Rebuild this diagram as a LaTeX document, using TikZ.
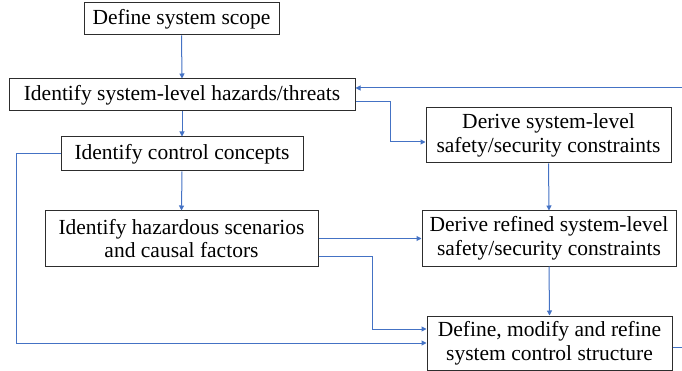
\documentclass[tikz,border=0pt]{standalone}
\usepackage{fontspec}
\setmainfont{Liberation Serif}
\usetikzlibrary{arrows.meta}
\definecolor{lineblue}{RGB}{68,114,196}
\definecolor{boxgray}{RGB}{45,45,45}
\begin{document}
\begin{tikzpicture}[x=1pt,y=-1pt,
  box/.style={draw=boxgray,line width=1pt,inner sep=0pt,align=center,
    font=\fontsize{21.5}{23.5}\selectfont},
  arr/.style={draw=lineblue,line width=1pt,-{Triangle[length=5pt,width=5pt]}},
  ln/.style={draw=lineblue,line width=1pt}]
\useasboundingbox (0,0) rectangle (682,371);
\node[box,minimum width=195pt,minimum height=32pt] (b1) at (181.5,19) {Define system scope};
\node[box,minimum width=346pt,minimum height=32pt] (b2) at (182,95) {Identify system-level hazards/threats};
\node[box,minimum width=242pt,minimum height=34pt] (b3) at (182,154) {Identify control concepts};
\node[box,minimum width=245pt,minimum height=55pt] (b4) at (548.5,135.5) {Derive system-level\\safety/security constraints};
\node[box,minimum width=273pt,minimum height=55pt] (b5) at (181.5,238.5) {Identify hazardous scenarios\\and causal factors};
\node[box,minimum width=254pt,minimum height=55pt] (b6) at (549,238.5) {Derive refined system-level\\safety/security constraints};
\node[box,minimum width=245pt,minimum height=54pt] (b7) at (549.5,343) {Define, modify and refine\\system control structure};
\coordinate (fb) at (682,88);
\coordinate (out) at (682,347);
\draw[arr] (b1.south) -- (b2.north);
\draw[arr] (b2.south) -- (b3.north);
\draw[arr] (b3.south) -- (b5.north);
\draw[arr] (fb) -- (fb -| b2.east);
\draw[arr] ([yshift=-7pt]b2.east) -- ++(35,0) |- ([yshift=-6.5pt]b4.west);
\draw[arr] (b4.south) -- (b6.north);
\draw[arr] (b6.south) -- (b7.north);
\draw[arr] (b5.east) -- (b5.east -| b6.west);
\draw[arr] ([yshift=-17.5pt]b5.east) -- ++(54,0) |- ([yshift=14pt]b7.west);
\draw[arr] (b3.west) -- ++(-44,0) |- (b7.west);
\draw[ln] ([yshift=-4pt]b7.east) -- (out);
\end{tikzpicture}
\end{document}
